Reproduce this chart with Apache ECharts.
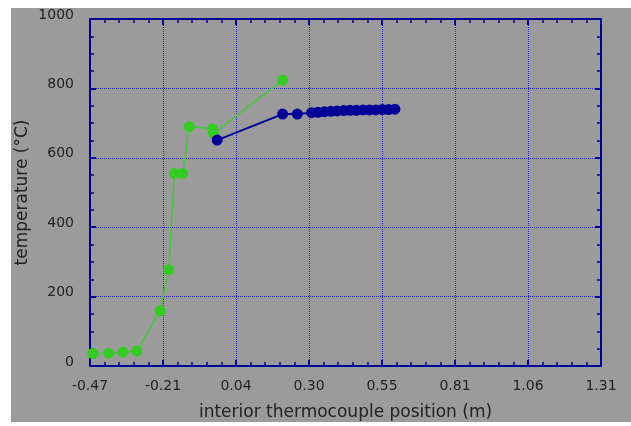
<!DOCTYPE html>
<html>
<head>
<meta charset="utf-8">
<script src="https://cdn.jsdelivr.net/npm/echarts@6/dist/echarts.min.js"></script>
<style>
  html, body { margin: 0; padding: 0; background: #ffffff; }
  #chart {
    position: absolute;
    left: 11px;
    top: 8px;
    width: 620px;
    height: 414px;
    background: #9b9b9b;
  }
</style>
</head>
<body>
<div id="chart"></div>
<script>
// tick labels as printed on the x axis
var xTicks = ['-0.47', '-0.21', '0.04', '0.30', '0.55', '0.81', '1.06', '1.31'];
var xMin = -0.47;
var xMax = 1.31;
var xStep = (xMax - xMin) / 7;

// green series (outer thermocouples)
var greenX = [-0.460, -0.405, -0.355, -0.307, -0.226, -0.196, -0.176, -0.147, -0.124, -0.043, -0.040, 0.201];
var greenY = [36, 37, 40, 43, 159, 277, 555, 555, 690, 684, 670, 824];

// blue series (interior thermocouples)
var blueX = [-0.027, 0.201, 0.252, 0.302, 0.324, 0.347, 0.369, 0.391, 0.414, 0.436, 0.458, 0.481, 0.503, 0.525, 0.548, 0.570, 0.592];
var blueY = [651, 726, 726, 730, 731, 733, 734, 735, 736, 737, 737, 738, 738, 738, 739, 739, 740];

var axisBlue = '#000099';
var gridBlue = '#2a2ad0';
var textFont = 'DejaVu Sans';

function pairs(xs, ys) {
  return xs.map(function (x, i) { return [x, ys[i]]; });
}

// axis frame shared by the four sides
function frame(extra) {
  return Object.assign({
    type: 'value',
    axisLine: { onZero: false, lineStyle: { color: axisBlue, width: 2 } },
    axisTick: { inside: true, length: 6, lineStyle: { color: axisBlue, width: 2 } },
    minorTick: { show: true, length: 4, lineStyle: { color: axisBlue, width: 1.5 } },
    splitLine: { show: false },
    axisLabel: { show: false }
  }, extra);
}

var myChart = echarts.init(document.getElementById('chart'));

var option = {
  animation: false,
  grid: { left: 79, top: 11, right: 30, bottom: 56, outerBoundsMode: 'none', containLabel: false },
  xAxis: [
    frame({
      position: 'bottom',
      min: xMin,
      max: xMax,
      interval: xStep,
      minorTick: { show: true, splitNumber: 5, length: 4, lineStyle: { color: axisBlue, width: 1.5 } },
      name: 'interior thermocouple position (m)',
      nameLocation: 'middle',
      nameGap: 38,
      nameMoveOverlap: false,
      nameTextStyle: { color: '#222', fontSize: 17, fontFamily: textFont },
      splitLine: { show: true, lineStyle: { color: gridBlue, type: 'dotted', width: 1 } },
      axisLabel: {
        color: '#222',
        fontSize: 14,
        fontFamily: textFont,
        margin: 13,
        formatter: function (v) {
          return xTicks[Math.round((v - xMin) / xStep)];
        }
      }
    }),
    frame({
      position: 'top',
      min: xMin,
      max: xMax,
      interval: xStep,
      minorTick: { show: true, splitNumber: 5, length: 4, lineStyle: { color: axisBlue, width: 1.5 } }
    })
  ],
  yAxis: [
    frame({
      position: 'left',
      min: 0,
      max: 1000,
      interval: 200,
      minorTick: { show: true, splitNumber: 4, length: 4, lineStyle: { color: axisBlue, width: 1.5 } },
      name: 'temperature (°C)',
      nameLocation: 'middle',
      nameGap: 59,
      nameMoveOverlap: false,
      nameTextStyle: { color: '#222', fontSize: 17, fontFamily: textFont },
      splitLine: { show: true, lineStyle: { color: gridBlue, type: 'dotted', width: 1 } },
      axisLabel: {
        color: '#222',
        fontSize: 14,
        fontFamily: textFont,
        margin: 16,
        verticalAlign: 'bottom',
        lineHeight: 8,
        formatter: function (v) { return String(v); }
      }
    }),
    frame({
      position: 'right',
      min: 0,
      max: 1000,
      interval: 200,
      minorTick: { show: true, splitNumber: 4, length: 4, lineStyle: { color: axisBlue, width: 1.5 } }
    })
  ],
  series: [
    {
      name: 'outer',
      type: 'line',
      data: pairs(greenX, greenY),
      symbol: 'circle',
      symbolSize: 11,
      itemStyle: { color: '#33cc22' },
      lineStyle: { color: '#44c83a', width: 1.5 },
      z: 3
    },
    {
      name: 'interior',
      type: 'line',
      data: pairs(blueX, blueY),
      symbol: 'circle',
      symbolSize: 11,
      itemStyle: { color: '#000099' },
      lineStyle: { color: '#000099', width: 2 },
      z: 4
    }
  ]
};

myChart.setOption(option);
window.addEventListener('resize', function () {
  myChart.resize();
});
</script>
</body>
</html>
